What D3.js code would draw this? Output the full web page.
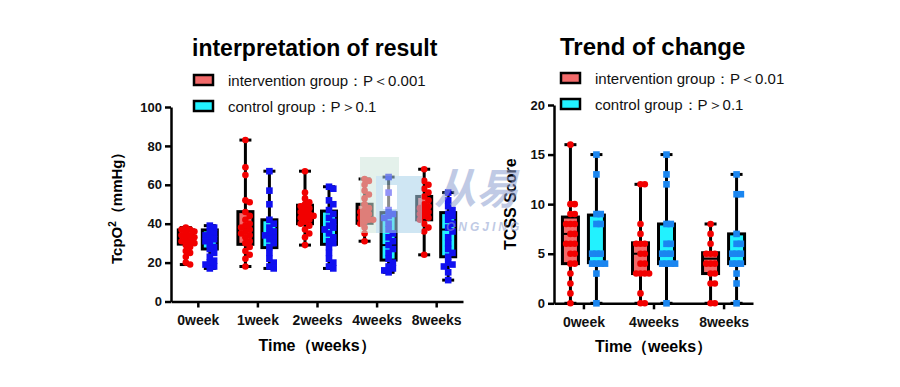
<!DOCTYPE html>
<html>
<head>
<meta charset="utf-8">
<script src="https://cdn.jsdelivr.net/npm/d3@7"></script>
<style>
  body { margin: 0; background: #fff; }
  svg { display: block; font-family: "Liberation Sans", Arial, sans-serif; }
  .axis path, .axis line { stroke: #000; stroke-width: 2.5; }
  .axis text { font-size: 13px; font-weight: bold; fill: #111; }
</style>
</head>
<body>
<div id="chart"></div>
<script>
"use strict"

// ---- data ----
const tcpCategories = ["0week", "1week", "2weeks", "4weeks", "8weeks"];
const tcpTicks = [0, 20, 40, 60, 80, 100];
// box stats: [min, q1, median, q3, max]
const tcpInterventionBox = [[19, 29.5, 33, 36.8, 38], [18, 29.4, 38, 46.2, 83], [29, 40, 44, 49.5, 67], [31, 40.2, 44, 50, 63], [24, 42, 47, 54, 68]];
const tcpControlBox = [[17, 27, 32, 36.8, 39], [17, 27.7, 34, 42, 67], [17, 29.4, 38, 46.5, 59], [15, 21.3, 29, 45.7, 64], [11, 23, 37, 45.7, 56]];
const tcpInterventionPoints = [
	[38, 37, 37, 36, 36, 35, 35, 34, 34, 33, 33, 32, 32, 31, 31, 30, 29, 28, 26, 25, 23, 20, 19],
	[83, 69, 65, 52, 51, 46, 44, 42, 40, 39, 38, 37, 36, 35, 34, 33, 31, 30, 28, 26, 24, 22, 18],
	[67, 56, 53, 51, 50, 49, 48, 47, 46, 45, 44, 44, 43, 42, 41, 40, 39, 37, 35, 33, 29],
	[63, 62, 60, 57, 55, 53, 50, 48, 47, 46, 45, 44, 43, 42, 42, 41, 40, 38, 35, 31],
	[68, 62, 60, 58, 56, 54, 52, 50, 49, 48, 47, 46, 45, 44, 43, 42, 40, 38, 36, 24]
];
const tcpControlPoints = [
	[39, 38, 36, 35, 34, 33, 32, 31, 30, 28, 27, 25, 23, 21, 20, 19, 18, 17],
	[67, 57, 50, 42, 40, 38, 36, 35, 34, 33, 32, 30, 28, 25, 22, 20, 18, 17],
	[59, 58, 52, 50, 47, 45, 43, 41, 39, 38, 37, 35, 33, 31, 30, 28, 25, 22, 20, 18, 17],
	[64, 56, 47, 45, 44, 43, 40, 37, 35, 33, 31, 29, 27, 25, 22, 20, 18, 17, 16, 15],
	[56, 52, 49, 47, 45, 44, 42, 40, 38, 36, 33, 30, 27, 25, 23, 20, 19, 18, 15, 11]
];

const tcssCategories = ["0week", "4weeks", "8weeks"];
const tcssTicks = [0, 5, 10, 15, 20];
const tcssInterventionBox = [[0, 4, 7, 8.7, 16], [0, 3, 5, 6.1, 12], [0, 3, 4.5, 5.1, 8]];
const tcssControlBox = [[0, 4.1, 5, 8.9, 15], [0, 4, 5, 8, 15], [0, 4, 5, 7, 13]];
const tcssInterventionPoints = [
	[16, 10, 10, 9, 9, 8, 8, 8, 7, 7, 6, 6, 6, 5, 5, 4, 4, 3, 2, 1, 0],
	[12, 12, 8, 7, 6, 6, 6, 5, 5, 4, 4, 3, 3, 3, 3, 1, 0, 0],
	[8, 7, 6, 5, 5, 5, 4, 4, 4, 3, 3, 2, 2, 0, 0]
];
const tcssControlPoints = [
	[15, 13, 9, 9, 8, 8, 5, 5, 5, 4, 4, 4, 4, 3, 0],
	[15, 13, 12, 8, 8, 6, 6, 5, 5, 5, 4, 4, 4, 4, 0],
	[13, 11, 11, 7, 6, 6, 5, 5, 5, 4, 4, 4, 3, 2, 0]
];

const W = 900, H = 387;
const svg = d3.select("#chart").append("svg").attr("width", W).attr("height", H);

function drawPanel(cfg) {
	let x = d3.scalePoint().domain(cfg.categories).range([cfg.left, cfg.right]).padding(cfg.pad);
	let y = d3.scaleLinear().domain([0, cfg.ticks[cfg.ticks.length - 1]]).range([cfg.bottom, cfg.top]);
	let g = svg.append("g");

	// axes
	g.append("g").attr("class", "axis")
		.attr("transform", `translate(${cfg.left},0)`)
		.call(d3.axisLeft(y).tickValues(cfg.ticks).tickSize(6).tickSizeOuter(0).tickPadding(3));
	g.append("g").attr("class", "axis")
		.attr("transform", `translate(0,${cfg.bottom})`)
		.call(d3.axisBottom(x).tickSize(6).tickSizeOuter(0).tickPadding(8))
		.selectAll("text").style("font-size", "14px");

	let groups = [
		{ box: cfg.intBox, pts: cfg.intPts, off: -cfg.offset, fill: "#f26a6a", dot: "#f20000", shape: "circle" },
		{ box: cfg.ctlBox, pts: cfg.ctlPts, off: cfg.offset, fill: "#22f2ff", dot: cfg.ctlDot, shape: "square" }
	];

	groups.forEach(grp => {
		cfg.categories.forEach((c, i) => {
			let cx = x(c) + grp.off;
			let [mn, q1, md, q3, mx] = grp.box[i];
			let bw = cfg.boxW;
			// whisker
			g.append("line").attr("x1", cx).attr("x2", cx).attr("y1", y(mn)).attr("y2", y(mx))
				.attr("stroke", "#000").attr("stroke-width", 3);
			[mn, mx].forEach(v => g.append("line").attr("x1", cx - 6).attr("x2", cx + 6)
				.attr("y1", y(v)).attr("y2", y(v)).attr("stroke", "#000").attr("stroke-width", 3));
			g.append("rect").attr("x", cx - bw / 2).attr("y", y(q3)).attr("width", bw).attr("height", y(q1) - y(q3))
				.attr("fill", grp.fill).attr("stroke", "#000").attr("stroke-width", 3);
			g.append("line").attr("x1", cx - bw / 2).attr("x2", cx + bw / 2).attr("y1", y(md)).attr("y2", y(md))
				.attr("stroke", "#000").attr("stroke-width", 2);

			// simple beeswarm so equal values sit side by side
			let placed = [];
			let step = cfg.dotR * 1.3;
			grp.pts[i].forEach(v => {
				let py = y(v), k = 0, dx = 0;
				while (true) {
					dx = (k % 2 ? 1 : -1) * Math.ceil(k / 2) * step;
					if (!placed.some(p => Math.abs(p.x - dx) < step * 0.99 && Math.abs(p.y - py) < cfg.dotR * 1.4)) break;
					k++;
					if (Math.abs(dx) > bw / 2) { dx = 0; break; }
				}
				placed.push({ x: dx, y: py });
				if (grp.shape == "circle") {
					g.append("circle").attr("cx", cx + dx).attr("cy", py).attr("r", cfg.dotR).attr("fill", grp.dot);
				} else {
					g.append("rect").attr("x", cx + dx - cfg.dotR).attr("y", py - cfg.dotR)
						.attr("width", cfg.dotR * 2).attr("height", cfg.dotR * 2).attr("fill", grp.dot);
				}
			});
		});
	});

	// titles and legend
	g.append("text").attr("x", cfg.titleX).attr("y", cfg.titleY).attr("font-size", cfg.titleSize).attr("font-weight", "bold")
		.text(cfg.title);
	cfg.legend.forEach((t, i) => {
		let ly = cfg.legendY + i * 26;
		g.append("rect").attr("x", cfg.legendX).attr("y", ly - 5).attr("width", 19).attr("height", 10)
			.attr("fill", i == 0 ? "#f26a6a" : "#22f2ff").attr("stroke", "#000").attr("stroke-width", 2.5);
		g.append("text").attr("x", cfg.legendX + 34).attr("y", ly + 5.5).attr("font-size", 15).attr("fill", "#111")
			.text(t);
	});

	g.append("text").attr("text-anchor", "middle").attr("font-size", 16).attr("font-weight", "bold")
		.attr("x", (cfg.left + cfg.right) / 2).attr("y", cfg.bottom + 49).text("Time（weeks）");
	g.append("text").attr("text-anchor", "middle").attr("font-size", cfg.yLabelSize).attr("font-weight", "bold")
		.attr("transform", `translate(${cfg.yLabelX},${(cfg.top + cfg.bottom) / 2}) rotate(-90)`)
		.html(cfg.yLabel);
}

drawPanel({
	categories: tcpCategories, ticks: tcpTicks,
	left: 171, right: 463, top: 107, bottom: 301.5, pad: 0.45, offset: 12, boxW: 15, dotR: 3.3,
	intBox: tcpInterventionBox, ctlBox: tcpControlBox, intPts: tcpInterventionPoints, ctlPts: tcpControlPoints,
	ctlDot: "#1010f0",
	title: "interpretation of result", titleX: 192, titleY: 56, titleSize: 23,
	legend: ["intervention group：P＜0.001", "control group：P＞0.1"], legendX: 194, legendY: 80,
	yLabel: "TcpO<tspan dy='-6' font-size='10'>2</tspan><tspan dy='6'>（mmHg）</tspan>", yLabelX: 122, yLabelSize: 15
});

drawPanel({
	categories: tcssCategories, ticks: tcssTicks,
	left: 554, right: 753, top: 105, bottom: 303.3, pad: 0.42, offset: 13, boxW: 16, dotR: 3.3,
	intBox: tcssInterventionBox, ctlBox: tcssControlBox, intPts: tcssInterventionPoints, ctlPts: tcssControlPoints,
	ctlDot: "#1a86f0",
	title: "Trend of change", titleX: 560, titleY: 55, titleSize: 24,
	legend: ["intervention group：P＜0.01", "control group：P＞0.1"], legendX: 561, legendY: 78,
	yLabel: "TCSS Score", yLabelX: 516, yLabelSize: 16
});

// faint watermark on top
let wm = svg.append("g").attr("opacity", 0.55);
wm.append("rect").attr("x", 360).attr("y", 157).attr("width", 39).attr("height", 76).attr("fill", "#cfe6dc");
wm.append("rect").attr("x", 376).attr("y", 176).attr("width", 46).attr("height", 57).attr("fill", "#a9d2ea");
wm.append("rect").attr("x", 383).attr("y", 185).attr("width", 14).attr("height", 24).attr("fill", "#ffffff");
wm.append("text").attr("x", 434).attr("y", 204).attr("font-family", "Noto Sans CJK SC").attr("font-weight", "bold")
	.attr("font-size", 42).attr("fill", "#8d9fd0").attr("font-style", "italic").text("从易");
wm.append("text").attr("x", 446).attr("y", 231).attr("font-family", "Liberation Sans").attr("font-weight", "bold")
	.attr("font-size", 12).attr("fill", "#8d9fd0").attr("font-style", "italic").attr("letter-spacing", 3).text("ONGJING");
</script>
</body>
</html>
